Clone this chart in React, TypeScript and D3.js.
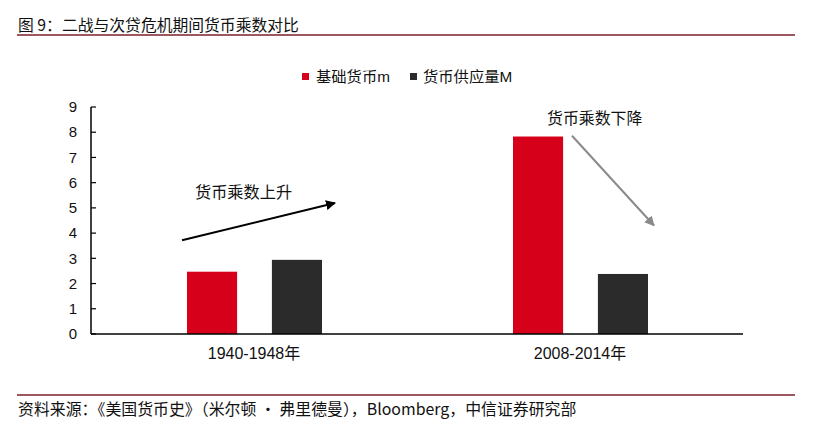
import React from "react";
import * as d3 from "d3";

const categories = ["1940-1948年", "2008-2014年"];
const seriesNames = ["基础货币m", "货币供应量M"];
const baseMoney = [2.47, 7.83];
const moneySupply = [2.94, 2.38];
const yTicks = [0, 1, 2, 3, 4, 5, 6, 7, 8, 9];
const colors = ["#D7001A", "#2B2B2B"];

const title = "图 9：二战与次贷危机期间货币乘数对比";
const source = "资料来源：《美国货币史》（米尔顿 · 弗里德曼），Bloomberg，中信证券研究部";

const W = 813;
const H = 437;
const plot = { left: 91, right: 743, top: 107, bottom: 334 };

const FONT = "'Liberation Sans', Arial, 'Noto Sans CJK SC', sans-serif";
const CJK = "'Noto Sans CJK SC', 'Liberation Sans', sans-serif";

export default function App() {
  const x = d3.scaleBand<string>().domain(categories).range([plot.left, plot.right]).padding(0);
  const inner = d3
    .scaleBand<string>()
    .domain(seriesNames)
    .range([96, 231])
    .paddingInner(0.41)
    .paddingOuter(0);
  const y = d3.scaleLinear().domain([0, 9]).range([plot.bottom, plot.top]);
  const series = [baseMoney, moneySupply];

  const upArrow = { x1: 182, v1: 3.72, x2: 335, v2: 5.19 };
  const downArrow = { x1: 572, v1: 7.86, x2: 654, v2: 4.3 };

  return (
    <svg
      width={W}
      height={H}
      style={{ position: "absolute", left: 0, top: 0, background: "#fff" }}
    >
      <defs>
        <marker id="ahBlack" viewBox="0 0 10 10" refX="9" refY="5" markerWidth="5" markerHeight="5" orient="auto" markerUnits="strokeWidth">
          <path d="M0,0 L10,5 L0,10 z" fill="#000" />
        </marker>
        <marker id="ahGray" viewBox="0 0 10 10" refX="9" refY="5" markerWidth="5" markerHeight="5" orient="auto" markerUnits="strokeWidth">
          <path d="M0,0 L10,5 L0,10 z" fill="#8A8A8A" />
        </marker>
      </defs>
      <rect width={W} height={H} fill="#fff" />
      {/* title */}
      <text x={18} y={31} fontFamily={CJK} fontSize={15.8} fill="#111">
        {title}
      </text>
      <line x1={17} x2={795} y1={35} y2={35} stroke="#7E1F2B" strokeWidth={1.3} />

      {/* legend */}
      <rect x={302} y={73} width={7} height={7} fill={colors[0]} />
      <text x={316} y={82} fontFamily={FONT} fontSize={15.3} fill="#111">
        {seriesNames[0]}
      </text>
      <rect x={410} y={73} width={7} height={7} fill={colors[1]} />
      <text x={423} y={82} fontFamily={FONT} fontSize={15.3} fill="#111">
        {seriesNames[1]}
      </text>

      {/* y axis */}
      <line x1={plot.left} x2={plot.left} y1={plot.top} y2={plot.bottom} stroke="#000" strokeWidth={1.5} />
      {yTicks.map((t) => (
        <g key={t}>
          <line x1={plot.left} x2={plot.left + 5} y1={y(t)} y2={y(t)} stroke="#000" strokeWidth={1.2} />
          <text x={77} y={y(t)} dy="0.35em" textAnchor="end" fontFamily={FONT} fontSize={15} fill="#111">
            {t}
          </text>
        </g>
      ))}

      {/* bars */}
      {categories.map((c, ci) =>
        seriesNames.map((s, si) => {
          const v = series[si][ci];
          const bx = (x(c) as number) + (inner(s) as number);
          return (
            <rect
              key={c + s}
              x={bx}
              y={y(v)}
              width={inner.bandwidth()}
              height={y(0) - y(v)}
              fill={colors[si]}
            />
          );
        })
      )}

      {/* x axis */}
      <line x1={plot.left} x2={plot.right} y1={plot.bottom} y2={plot.bottom} stroke="#000" strokeWidth={1.5} />
      {categories.map((c) => (
        <text
          key={c}
          x={(x(c) as number) + x.bandwidth() / 2}
          y={359}
          textAnchor="middle"
          fontFamily={FONT}
          fontSize={16}
          fill="#111"
        >
          {c}
        </text>
      ))}

      {/* annotations */}
      <line
        x1={upArrow.x1}
        y1={y(upArrow.v1)}
        x2={upArrow.x2}
        y2={y(upArrow.v2)}
        stroke="#000"
        strokeWidth={2}
        markerEnd="url(#ahBlack)"
      />
      <text x={195} y={198} fontFamily={CJK} fontSize={16.2} fill="#111">
        货币乘数上升
      </text>
      <line
        x1={downArrow.x1}
        y1={y(downArrow.v1)}
        x2={downArrow.x2}
        y2={y(downArrow.v2)}
        stroke="#8A8A8A"
        strokeWidth={2}
        markerEnd="url(#ahGray)"
      />
      <text x={547} y={124} fontFamily={CJK} fontSize={15.9} fill="#111">
        货币乘数下降
      </text>

      {/* footer */}
      <line x1={17} x2={795} y1={395} y2={395} stroke="#7E1F2B" strokeWidth={1.3} />
      <text x={18} y={415} fontFamily={CJK} fontSize={15.9} fill="#111">
        {source}
      </text>
    </svg>
  );
}
